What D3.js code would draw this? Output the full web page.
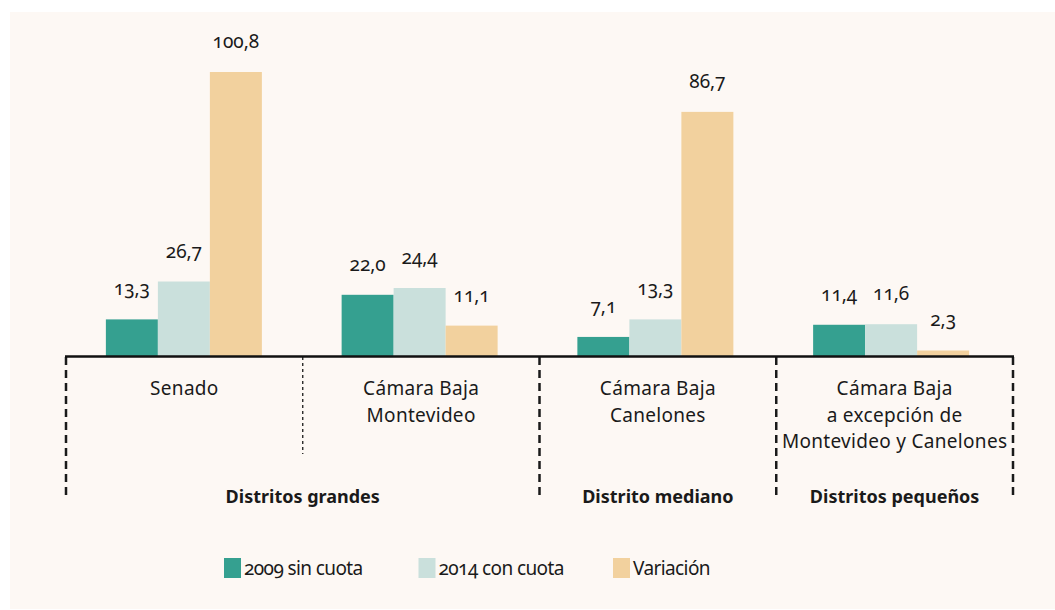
<!DOCTYPE html>
<html>
<head>
<meta charset="utf-8">
<script src="https://cdn.jsdelivr.net/npm/d3@7"></script>
<style>
  body { margin: 0; background: #ffffff; }
  svg text { font-family: "Noto Sans", sans-serif; fill: #1a1a1a; }
  .num { font-feature-settings: "onum" 1; font-variant-numeric: oldstyle-nums; }
</style>
</head>
<body>
<div id="chartArea"></div>
<script>
// categorías y series
const categories = ["Senado", "Cámara Baja Montevideo", "Cámara Baja Canelones", "Cámara Baja resto"];
const categoryLines = [
    ["Senado"],
    ["Cámara Baja", "Montevideo"],
    ["Cámara Baja", "Canelones"],
    ["Cámara Baja", "a excepción de", "Montevideo y Canelones"]
];
const series = ["2009 sin cuota", "2014 con cuota", "Variación"];
const values2009 = [13.3, 22.0, 7.1, 11.4];
const values2014 = [26.7, 24.4, 13.3, 11.6];
const valuesVariacion = [100.8, 11.1, 86.7, 2.3];
const districtGroups = ["Distritos grandes", "Distrito mediano", "Distritos pequeños"];
const districtSpans = [2, 1, 1];
const colors = ["#35a090", "#cae0dc", "#f2d19e"];

const width = 1055;
const height = 610;

const locale = d3.formatLocale({decimal: ",", thousands: ".", grouping: [3], currency: ["", ""]});
const fmt = locale.format(".1f");

const svg = d3
            .select("#chartArea")
            .append("svg")
            .attr("width", width)
            .attr("height", height);

// panel de fondo
svg.append("rect")
    .attr("x", 10)
    .attr("y", 12)
    .attr("width", width - 10)
    .attr("height", height - 13)
    .attr("fill", "#fdf8f4");

const xDiv = d3.scaleBand().domain(categories).range([66, 1013]);
const x0 = d3.scaleBand().domain(categories).range([66, 1009]);
const x1 = d3.scaleBand().domain(series).range([0, 156]);
const y = d3.scaleLinear().domain([0, 110]).range([357, 46]);

const seriesValues = [values2009, values2014, valuesVariacion];
const barData = [];
categories.forEach((c, i) => {
    series.forEach((s, j) => {
        barData.push({cat: c, ser: s, value: seriesValues[j][i], color: colors[j]});
    });
});

const groupOffset = (x0.bandwidth() - 156) / 2;

svg.append("g")
    .selectAll("rect")
    .data(barData)
    .join("rect")
    .attr("x", d => x0(d.cat) + groupOffset + x1(d.ser))
    .attr("y", d => y(d.value))
    .attr("width", x1.bandwidth())
    .attr("height", d => y(0) - y(d.value))
    .attr("fill", d => d.color);

svg.append("g")
    .selectAll("text")
    .data(barData)
    .join("text")
    .attr("class", "num")
    .attr("x", d => x0(d.cat) + groupOffset + x1(d.ser) + x1.bandwidth() / 2)
    .attr("y", d => y(d.value) - 24)
    .attr("text-anchor", "middle")
    .style("font-size", "19px")
    .text(d => fmt(d.value));

// líneas divisorias
const divX = categories.map(c => xDiv(c)).concat([xDiv.range()[1]]);
let spanStart = [0];
districtSpans.forEach((s, i) => spanStart.push(spanStart[i] + s));
const isGroupEdge = divX.map((d, i) => spanStart.includes(i));

svg.append("g")
    .selectAll("line")
    .data(divX)
    .join("line")
    .attr("x1", d => d)
    .attr("x2", d => d)
    .attr("y1", y(0))
    .attr("y2", (d, i) => isGroupEdge[i] ? 500 : 454)
    .attr("stroke", "#1a1a1a")
    .attr("stroke-width", (d, i) => isGroupEdge[i] ? 2.5 : 1.3)
    .attr("stroke-dasharray", (d, i) => isGroupEdge[i] ? "8,5" : "3,3");

// eje horizontal
svg.append("line")
    .attr("x1", xDiv.range()[0] - 1)
    .attr("x2", xDiv.range()[1] + 1)
    .attr("y1", y(0) - 0.5)
    .attr("y2", y(0) - 0.5)
    .attr("stroke", "#111")
    .attr("stroke-width", 2.5);

// etiquetas de categoría
const catLabels = svg.append("g")
    .selectAll("text")
    .data(categories)
    .join("text")
    .attr("x", d => xDiv(d) + xDiv.bandwidth() / 2)
    .attr("y", 395)
    .attr("text-anchor", "middle")
    .style("font-size", "19px")
    .style("letter-spacing", "0.3px");
catLabels.selectAll("tspan")
    .data((d, i) => categoryLines[i])
    .join("tspan")
    .attr("x", function () { return d3.select(this.parentNode).attr("x"); })
    .attr("dy", (d, i) => i === 0 ? 0 : 26.5)
    .text(d => d);

// grupos de distritos
svg.append("g")
    .selectAll("text")
    .data(districtGroups)
    .join("text")
    .attr("x", (d, i) => (divX[spanStart[i]] + divX[spanStart[i + 1]]) / 2)
    .attr("y", 503)
    .attr("text-anchor", "middle")
    .style("font-size", "18px")
    .style("font-weight", "700")
    .text(d => d);

// leyenda
const legendX = d3.scalePoint().domain(series).range([224, 613]);
const legend = svg.append("g")
    .selectAll("g")
    .data(series)
    .join("g")
    .attr("transform", d => `translate(${legendX(d)},558)`);
legend.append("rect")
    .attr("width", 17)
    .attr("height", 20)
    .attr("fill", (d, i) => colors[i]);
legend.append("text")
    .attr("class", "num")
    .attr("x", 20)
    .attr("y", 17)
    .style("font-size", "19px")
    .style("font-stretch", "condensed")
    .style("letter-spacing", "-0.6px")
    .text(d => d);
</script>
</body>
</html>
